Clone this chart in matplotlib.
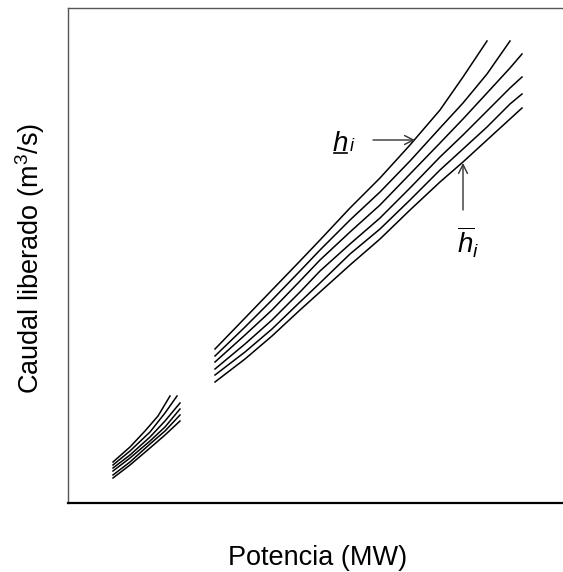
import matplotlib
matplotlib.use('Agg')
import matplotlib.pyplot as plt
from matplotlib.lines import Line2D
from matplotlib.transforms import IdentityTransform

plt.rcParams['font.family'] = ['Liberation Sans', 'DejaVu Sans']
plt.rcParams['mathtext.fontset'] = 'custom'
plt.rcParams['mathtext.rm'] = 'Liberation Sans'
plt.rcParams['mathtext.it'] = 'Liberation Sans:italic'

# ---- data (arbitrary units, no ticks on the original) ----
# lower operating zone: six head levels
low_x1 = [45, 62, 77, 90, 102]
low_x2 = [45, 62, 82, 97, 109]
low_x = [45, 62, 82, 97, 112]
low_y1 = [41, 56, 72, 87, 107]
low_y2 = [38, 52, 71, 90, 107]
low_y3 = [35, 48, 66, 82, 100]
low_y4 = [32, 45, 62, 76, 94]
low_y5 = [28, 41, 59, 72, 88]
low_y6 = [25, 38, 55, 68, 82]

# upper operating zone: six head levels
high_x = [147, 177, 204, 232, 252, 282, 312, 342, 372, 395, 419, 442, 454]
high_y1 = [154, 185, 213, 242, 263, 295, 325, 358, 393, 426, 462]
high_y2 = [147, 176, 203, 232, 253, 283, 311, 342, 375, 400, 429, 462]
high_y3 = [141, 168, 193, 222, 243, 271, 298, 329, 360, 384, 410, 435, 449]
high_y4 = [134, 159, 183, 211, 232, 259, 285, 315, 346, 368, 392, 415, 426]
high_y5 = [128, 151, 174, 201, 220, 249, 274, 303, 333, 354, 376, 399, 409]
high_y6 = [121, 144, 167, 193, 211, 238, 264, 293, 321, 341, 363, 384, 395]

low_curves = [(low_x1, low_y1), (low_x2, low_y2), (low_x, low_y3),
              (low_x, low_y4), (low_x, low_y5), (low_x, low_y6)]
high_curves = [high_y1, high_y2, high_y3, high_y4, high_y5, high_y6]

W, H = 563, 572
fig = plt.figure(figsize=(W / 100, H / 100), dpi=100)
ax = fig.add_axes([68 / W, (H - 503) / H, 500 / W, 495 / H])
ax.set_xlim(0, 500)
ax.set_ylim(0, 495)
ax.set_xticks([])
ax.set_yticks([])
ax.spines['right'].set_visible(False)
for s in ('left', 'top'):
    ax.spines[s].set_color('#555555')
    ax.spines[s].set_linewidth(1.0)
ax.spines['bottom'].set_color('black')
ax.spines['bottom'].set_linewidth(1.6)

lw = 1.1
for xs, ys in low_curves:
    ax.plot(xs, ys, color='black', lw=lw)
for ys in high_curves:
    ax.plot(high_x[:len(ys)], ys, color='black', lw=lw)

fig.text(318 / W, (H - 565) / H, 'Potencia (MW)', ha='center', va='baseline',
         fontsize=19.5)
fig.text(30 / W, (H - 258) / H, 'Caudal liberado (m$^3$/s)', ha='center',
         va='center', rotation=90, fontsize=19.5)

arrow = dict(arrowstyle='->', color='#333333', lw=1.0, shrinkA=0, shrinkB=0,
             mutation_scale=16)
ax.annotate('', xy=(347, 363), xytext=(305, 363), arrowprops=arrow)
ax.annotate('', xy=(395, 340), xytext=(395, 293), arrowprops=arrow)

# underlined h_i
th = ax.text(265, 352, 'h', fontsize=20, style='italic', ha='left', va='baseline')
fig.canvas.draw()
r = fig.canvas.get_renderer()
bb = th.get_window_extent(r)
bx, by = ax.transData.transform((265, 352))
ax.add_line(Line2D([bb.x0 + 1, bb.x1 - 1], [by - 2, by - 2], color='black',
                   lw=1.2, transform=IdentityTransform()))
ti_x, ti_y = ax.transData.inverted().transform((bb.x1 + 1, by))
ax.text(ti_x, ti_y, 'i', fontsize=13, style='italic', ha='left', va='baseline')

# overlined h_i
ax.text(389, 250, r'$\overline{h}_i$', fontsize=20, ha='left', va='baseline')

fig.savefig('out.png', dpi=100)
